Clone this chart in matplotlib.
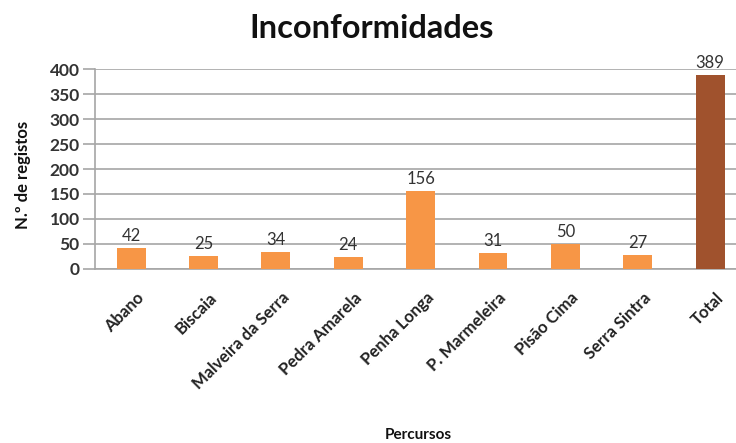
import matplotlib
matplotlib.use("Agg")
import matplotlib.pyplot as plt
import matplotlib.transforms as mtransforms

categories = ["Abano", "Biscaia", "Malveira da Serra", "Pedra Amarela", "Penha Longa",
              "P. Marmeleira", "Pisão Cima", "Serra Sintra", "Total"]
values = [42, 25, 34, 24, 156, 31, 50, 27, 389]
yticks = [0, 50, 100, 150, 200, 250, 300, 350, 400]

plt.rcParams['font.family'] = ['Lato', 'DejaVu Sans']

fig = plt.figure(figsize=(7.36, 4.43), dpi=100)
ax = fig.add_axes([0.129, 0.393, 0.885, 0.451])

colors = ['#F79646'] * (len(values) - 1) + ['#A0522D']
x = list(range(len(categories)))
bars = ax.bar(x, values, width=0.4, color=colors, zorder=3)
for xi, v in zip(x, values):
    ax.text(xi, v + 8, str(v), ha='center', va='bottom', fontsize=12, color='#333333')

ax.set_xlim(-0.5, len(categories) - 0.5)
ax.set_ylim(0, 400)
ax.set_yticks(yticks)
ax.yaxis.grid(True, color='#A6A6A6', linewidth=1.2, zorder=0)
ax.tick_params(axis='y', length=9, color='#A6A6A6', width=1.2, labelsize=12.5, pad=2)
ax.tick_params(axis='x', length=0, labelsize=12, pad=15)
for lbl in ax.get_yticklabels():
    lbl.set_fontweight('bold')
    lbl.set_color('#333333')
ax.set_xticks(x)
ax.set_xticklabels(categories, rotation=45, ha='right', rotation_mode='anchor',
                   fontweight='bold', color='#222222')
offset = mtransforms.ScaledTranslation(5 / 100, 0, fig.dpi_scale_trans)
for lbl in ax.get_xticklabels():
    lbl.set_transform(lbl.get_transform() + offset)
for s in ['top', 'right']:
    ax.spines[s].set_visible(False)
ax.spines['left'].set_color('#A6A6A6')
ax.spines['left'].set_linewidth(1.2)
ax.spines['bottom'].set_color('#A6A6A6')
ax.spines['bottom'].set_linewidth(1.2)

fig.text(0.505, 0.935, "Inconformidades", ha='center', va='center', fontsize=23.5, fontweight='bold', color='#111111')
fig.text(0.031, 0.605, "N.º de registos", ha='center', va='center', rotation=90, fontsize=12, fontweight='bold', color='#111111')
fig.text(0.568, 0.018, "Percursos", ha='center', va='center', fontsize=11, fontweight='bold', color='#111111')

fig.savefig("out.png", dpi=100)
